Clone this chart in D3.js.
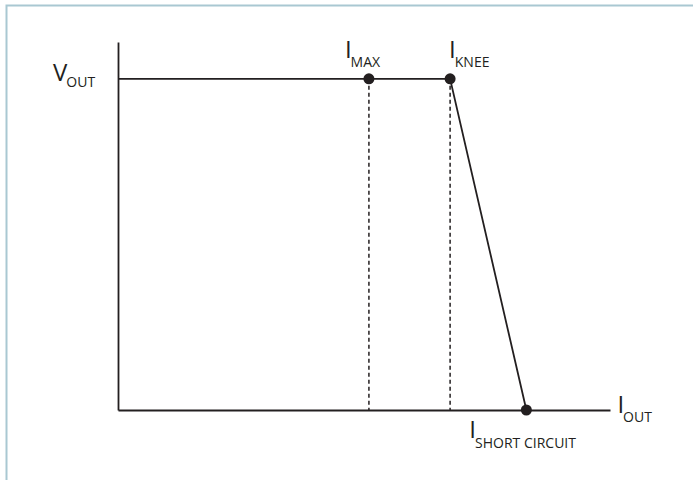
<!DOCTYPE html>
<html>
<head>
<meta charset="utf-8">
<script src="https://cdn.jsdelivr.net/npm/d3@7"></script>
<style>
  body { margin: 0; background: #fff; }
  text { font-family: "Open Sans", "Noto Sans", sans-serif; fill: #231f20; }
</style>
</head>
<body>
<div id="chart"></div>
<script>
// curve points (current, voltage) in arbitrary units
const pointNames = ["MAX", "KNEE", "SHORT CIRCUIT"];
const currents = [51, 67.5, 83];
const voltages = [90, 90, 0];
const vOut = 90;

const width = 693, height = 480;
const ink = "#231f20";

const svg = d3.select("#chart").append("svg")
    .attr("width", width)
    .attr("height", height);

// light frame
svg.append("path")
    .attr("d", `M6.5,${height} V5.5 H${width}`)
    .attr("fill", "none")
    .attr("stroke", "#a9c8d2")
    .attr("stroke-width", 2);

const xScale = d3.scaleLinear().domain([0, 100]).range([118, 610]);
const yScale = d3.scaleLinear().domain([0, 100]).range([410, 42]);

// axes (bare lines, no ticks)
svg.append("g")
    .attr("transform", `translate(${xScale(0)},0)`)
    .call(d3.axisLeft(yScale).ticks(0).tickSize(0).tickSizeOuter(0))
    .call(g => g.select(".domain").attr("stroke", ink).attr("stroke-width", 1.8));

svg.append("g")
    .attr("transform", `translate(0,${yScale(0)})`)
    .call(d3.axisBottom(xScale).ticks(0).tickSize(0).tickSizeOuter(0))
    .call(g => g.select(".domain").attr("stroke", ink).attr("stroke-width", 1.8));

// dashed drop lines for I_MAX and I_KNEE
svg.selectAll(".drop")
    .data([0, 1])
    .enter().append("line")
    .attr("x1", i => xScale(currents[i]))
    .attr("x2", i => xScale(currents[i]))
    .attr("y1", i => yScale(voltages[i]))
    .attr("y2", yScale(0))
    .attr("stroke", ink)
    .attr("stroke-width", 1.5)
    .attr("stroke-dasharray", "4,3");

// output curve
const curve = [[0, vOut]].concat(currents.map((c, i) => [c, voltages[i]]));
svg.append("path")
    .datum(curve)
    .attr("d", d3.line().x(d => xScale(d[0])).y(d => yScale(d[1])))
    .attr("fill", "none")
    .attr("stroke", ink)
    .attr("stroke-width", 1.8);

svg.selectAll(".dot")
    .data(currents)
    .enter().append("circle")
    .attr("cx", d => xScale(d))
    .attr("cy", (d, i) => yScale(voltages[i]))
    .attr("r", 5.5)
    .attr("fill", ink);

// labels with subscripts
function label(x, y, main, sub, dy) {
    const t = svg.append("text").attr("x", x).attr("y", y);
    t.append("tspan").attr("font-size", 24).text(main);
    t.append("tspan").attr("font-size", 14).attr("dx", -1).attr("dy", dy).text(sub);
}

label(xScale(-13.2), yScale(vOut) + 2, "V", "OUT", 6);
label(xScale(currents[0]) - 24, yScale(vOut) - 21, "I", pointNames[0], 9);
label(xScale(currents[1]) - 1, yScale(vOut) - 21, "I", pointNames[1], 9);
label(xScale(101.5), yScale(0) + 3, "I", "OUT", 9);
label(xScale(currents[2]) - 57, yScale(0) + 28, "I", pointNames[2], 10);
</script>
</body>
</html>
